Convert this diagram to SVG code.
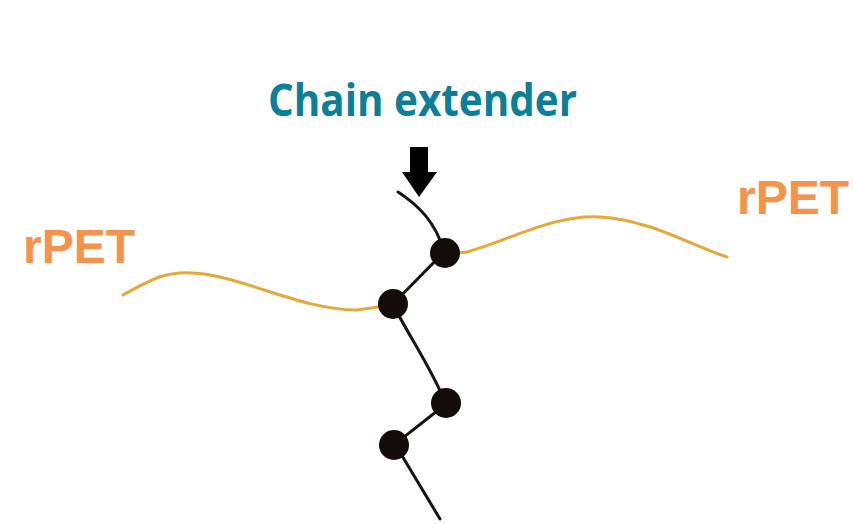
<svg xmlns="http://www.w3.org/2000/svg" width="854" height="524" viewBox="0 0 854 524">
  <style>
    .title { font-family: "Open Sans", "Liberation Sans", sans-serif; font-weight: 700; fill: #0b7e98; }
    .label { font-family: "Liberation Sans", Arial, sans-serif; font-weight: 700; fill: #f7924a; }
    .pet { fill: none; stroke: #e3a93a; stroke-width: 3; stroke-linecap: round; }
    .chain { fill: none; stroke: #151515; stroke-width: 3; stroke-linecap: round; }
    .joint { fill: #140b0b; }
  </style>
  <rect width="854" height="524" fill="#ffffff"/>

  <!-- labels -->
  <g id="title">
    <text class="title" x="268" y="116" font-size="44" textLength="309" lengthAdjust="spacingAndGlyphs">Chain extender</text>
  </g>
  <g id="rpet-left">
    <text class="label" x="23" y="263" font-size="48">rPET</text>
  </g>
  <g id="rpet-right">
    <text class="label" x="737" y="214" font-size="48">rPET</text>
  </g>

  <!-- connectors: polymer backbones and the chain extender -->
  <g id="connectors">
    <path class="pet" d="M123,295 C150,280 165,271 193,273 C240,275 300,310 357,310 L392,305"/>
    <path class="pet" d="M445,254 L467,252 C510,240 555,214 600,217 C650,220 690,245 727,257"/>
    <path class="chain" d="M398,192 C418,205 436,222 444,252 L393,304 C405,330 430,365 446,404 L395,444 L440,519"/>
    <path fill="#000" d="M410,147 L428,147 L428,172 L437,172 L419,197 L402,172 L410,172 Z"/>
  </g>

  <!-- junction points -->
  <g id="node-1"><circle class="joint" cx="445" cy="253" r="15"/></g>
  <g id="node-2"><circle class="joint" cx="393" cy="304" r="15"/></g>
  <g id="node-3"><circle class="joint" cx="446" cy="403" r="15"/></g>
  <g id="node-4"><circle class="joint" cx="394" cy="445" r="15"/></g>
</svg>
